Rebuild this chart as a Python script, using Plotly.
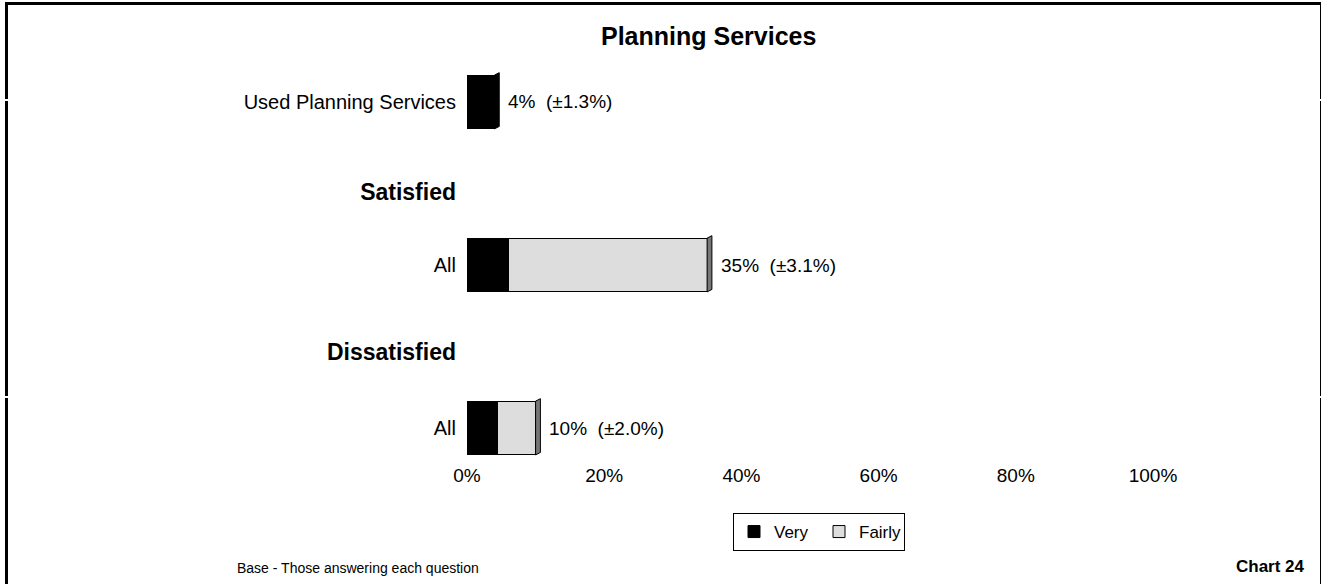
import plotly.graph_objects as go

# Survey data (percent of respondents)
row_labels = ["Used Planning Services", "<span style='font-size:23px'><b>Satisfied</b></span>", "All",
              "<span style='font-size:23px'><b>Dissatisfied</b></span>", "All"]
row_pos = [0, 1.12, 2, 3.08, 4]          # vertical slot of each row
bar_rows = [0, 2, 4]                      # rows that carry a bar
very = [4, 6, 4.5]
fairly = [0, 29, 5.5]
totals = [4, 35, 10]
margins = ["±1.3%", "±3.1%", "±2.0%"]

x_ticks = [0, 20, 40, 60, 80, 100]
x_tick_text = [f"{v}%" for v in x_ticks]

FONT = "Liberation Sans, Arial, sans-serif"
W, H = 1322, 584

fig = go.Figure()
fig.add_trace(go.Bar(
    name="Very", y=[row_pos[i] for i in bar_rows], x=very, orientation="h",
    marker=dict(color="#000000", line=dict(color="#000000", width=1)), width=0.66,
))
fig.add_trace(go.Bar(
    name="Fairly", y=[row_pos[i] for i in bar_rows], x=fairly, orientation="h",
    marker=dict(color="#DDDDDD", line=dict(color="#000000", width=1)), width=0.66,
))

# 3-D side face on the right end of each bar, plus value labels
depth = 0.7
for r, t, f, m in zip(bar_rows, totals, fairly, margins):
    y = row_pos[r]
    side = "#777777" if f > 0 else "#000000"
    fig.add_shape(type="path", xref="x", yref="y",
                  path=f"M {t},{y - 0.33} L {t + depth},{y - 0.36} L {t + depth},{y + 0.30} L {t},{y + 0.33} Z",
                  fillcolor=side, line=dict(color="#000000", width=1))
    fig.add_annotation(x=t + depth, y=y, xref="x", yref="y", text=f"{t}%  ({m})",
                       showarrow=False, xanchor="left", yanchor="middle", xshift=7,
                       font=dict(family=FONT, size=19, color="#000000"))

# Title and footers
fig.add_annotation(x=708 / W, y=1 - 36 / H, xref="paper", yref="paper", text="<b>Planning Services</b>",
                   showarrow=False, xanchor="center", yanchor="middle",
                   font=dict(family=FONT, size=25, color="#000000"))
fig.add_annotation(x=235 / W, y=1 - 568 / H, xref="paper", yref="paper",
                   text="Base - Those answering each question", showarrow=False,
                   xanchor="left", yanchor="middle", font=dict(family=FONT, size=14, color="#000000"))
fig.add_annotation(x=1307 / W, y=1 - 566 / H, xref="paper", yref="paper", text="<b>Chart 24</b>",
                   showarrow=False, xanchor="right", yanchor="middle",
                   font=dict(family=FONT, size=17, color="#000000"))

# Page frame: heavy top and left rules, thin right rule, each with small breaks
frame = dict(xref="paper", yref="paper", type="line")
fig.add_shape(x0=5 / W, x1=1321 / W, y0=1 - 3.5 / H, y1=1 - 3.5 / H, line=dict(color="#000", width=3), **frame)
for a, b in [(2, 99), (101, 396), (398, 584)]:
    fig.add_shape(x0=6.5 / W, x1=6.5 / W, y0=1 - a / H, y1=1 - b / H, line=dict(color="#000", width=3), **frame)
for a, b in [(2, 99), (101, 396), (398, 584)]:
    fig.add_shape(x0=1320.5 / W, x1=1320.5 / W, y0=1 - a / H, y1=1 - b / H, line=dict(color="#000", width=1), **frame)

x0_px, x1_px = 467, 1153
top_px, bot_px = 60, 462
unit = 81.5
fig.update_layout(
    width=W, height=H, barmode="stack",
    margin=dict(l=0, r=0, t=0, b=0),
    paper_bgcolor="white", plot_bgcolor="white",
    font=dict(family=FONT, size=19, color="#000000"),
    showlegend=True,
    legend=dict(orientation="h", x=733 / W, y=1 - 513 / H, xanchor="left", yanchor="top",
                bordercolor="#000000", borderwidth=1, font=dict(family=FONT, size=17),
                traceorder="normal", itemwidth=30, entrywidth=40, entrywidthmode="pixels",
                tracegroupgap=0),
    xaxis=dict(domain=[x0_px / W, x1_px / W], range=[0, 100], tickvals=x_ticks, ticktext=x_tick_text,
               showgrid=False, zeroline=False, showline=False, automargin=False,
               tickfont=dict(family=FONT, size=19)),
    yaxis=dict(domain=[1 - bot_px / H, 1 - top_px / H],
               range=[4 + (bot_px - 428) / unit, -(102 - top_px) / unit],
               tickvals=row_pos, ticktext=row_labels, showgrid=False, zeroline=False, showline=False,
               automargin=False, ticklabelstandoff=10, tickfont=dict(family=FONT, size=20)),
)

fig.write_html("out.html")
